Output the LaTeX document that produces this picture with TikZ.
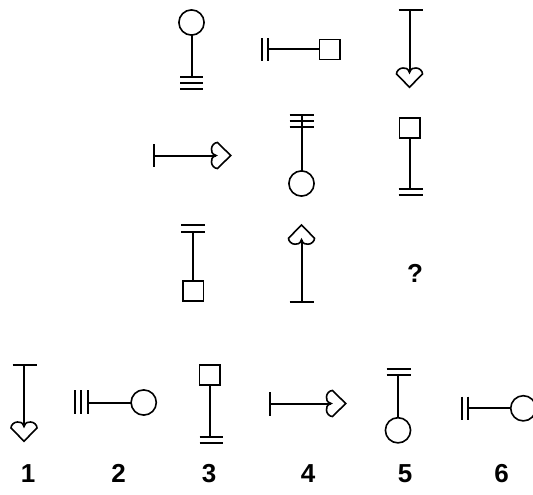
\documentclass[tikz,border=0pt]{standalone}
\usepackage{fontspec}
\setmainfont{Liberation Sans}
\usepackage{tikz}

\begin{document}
\begin{tikzpicture}[x=1pt, y=-1pt, line width=2pt,
        thin line/.style={line width=1.6pt},
        digit/.style={font=\bfseries\fontsize{26}{26}\selectfont, inner sep=0pt, anchor=base}]
        \clip (0, 0) rectangle (533, 495);
%        \draw [lightgray, thin, step = 10] (0, 0) grid (533, 495);

%       row 1
        \draw (191.5, 35) -- (191.5, 77.5);
        \draw (268, 49) -- (319.5, 49);
        \draw (398.5, 10.5) -- (422.5, 10.5);
        \draw (409.5, 10.5) -- (409.5, 72.5);

%       row 2
        \draw (154, 144) -- (154, 167);
        \draw (154, 155.5) -- (216, 155.5);
        \draw (301.5, 115) -- (301.5, 171);
        \draw (410, 138) -- (410, 189);

%       row 3
        \draw (193, 231.5) -- (193, 281);
        \draw (301.5, 239.7) -- (301.5, 301.5);
        \draw (289.5, 301.5) -- (313.5, 301.5);
        \node [digit] (q) at (415, 282.5) {?};

%       answers
        \draw (12.5, 364.5) -- (36.5, 364.5);
        \draw (24, 364.5) -- (24, 426.5);
        \draw (87.5, 402.5) -- (131, 402.5);
        \draw (210, 386) -- (210, 436.5);
        \draw (269.5, 392) -- (269.5, 416);
        \draw (269.5, 403.5) -- (331, 403.5);
        \draw (398, 374.5) -- (398, 417.5);
        \draw (467.5, 408.3) -- (510.7, 408.3);

%       horizontal bars
        \foreach \y/\xa/\xb in
        {
            77.5/180/203, 83.5/180/203, 89.5/180/203,
            115/289.5/313.5, 121/289.5/313.5, 127/289.5/313.5,
            189/398.5/422.5, 195/398.5/422.5,
            225/181/205, 231.5/181/205,
            436.5/199.5/222.5, 442.5/199.5/222.5,
            369/386.5/410.5, 374.5/386.5/410.5
        }
        {
            \draw (\xa, \y) -- (\xb, \y);
        }

%       vertical bars
        \foreach \x/\ya/\yb in
        {
            262/38.5/61.5, 268/38.5/61.5,
            75/390/413.5, 81/390/413.5, 87.5/390/413.5,
            461.7/396.5/419.5, 467.5/396.5/419.5
        }
        {
            \draw (\x, \ya) -- (\x, \yb);
        }

%       circles
        \foreach \x/\y in {191.5/22.5, 301.5/183.5, 143.7/402.5, 398/430.3, 523.3/408.3}
        {
            \draw [thin line] (\x, \y) circle [radius=12.6];
        }

%       squares
        \foreach \x/\y in {319.5/39.5, 399.5/118, 183/281, 199.5/365}
        {
            \draw [thin line] (\x, \y) rectangle +(20.5, 20);
        }

%       hearts
        \foreach \x/\y/\a in {409.5/72.5/0, 216/155.5/90, 301.5/239.7/180, 24/426.5/0, 331/403.5/90}
        {
            \draw [thin line, shift={(\x, \y)}, rotate=\a]
                (0, 0) .. controls (-1.5, -4.5) and (-4, -4.5) .. (-6.5, -4.5)
                .. controls (-10, -4.5) and (-13, -1.5) .. (-13, 1.5)
                -- (0, 14.7) -- (13, 1.5)
                .. controls (13, -1.5) and (10, -4.5) .. (6.5, -4.5)
                .. controls (4, -4.5) and (1.5, -4.5) .. cycle;
        }

%       labels
        \foreach \i/\x in {1/28, 2/118.5, 3/209, 4/308, 5/405, 6/501.7}
        {
            \node [digit] (lab\i) at (\x, 482.5) {\i};
        }
    \end{tikzpicture}
\end{document}
